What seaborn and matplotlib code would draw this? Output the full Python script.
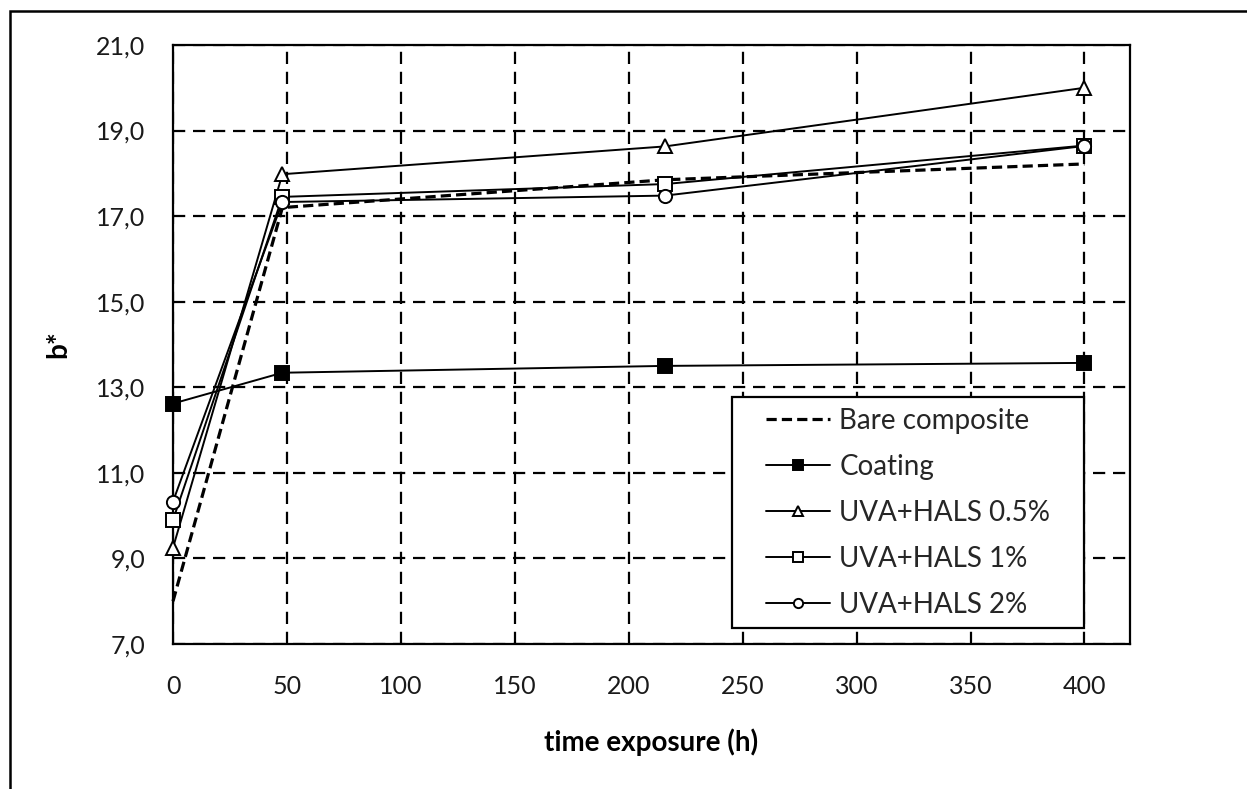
import matplotlib
matplotlib.use("Agg")
import matplotlib.pyplot as plt
from matplotlib.patches import Rectangle
from matplotlib.ticker import FuncFormatter
import seaborn as sns
import pandas as pd

# Exposure times (h) and b* colour coordinate per sample
hours = [0, 48, 216, 400]
bare_composite = [8.0, 17.2, 17.85, 18.22]
coating = [12.62, 13.34, 13.5, 13.57]
uva_hals_05 = [9.25, 17.98, 18.63, 20.0]
uva_hals_1 = [9.9, 17.45, 17.75, 18.65]
uva_hals_2 = [10.33, 17.33, 17.48, 18.64]

series_names = ["Bare composite", "Coating", "UVA+HALS 0.5%",
                "UVA+HALS 1%", "UVA+HALS 2%"]
series_values = [bare_composite, coating, uva_hals_05, uva_hals_1, uva_hals_2]

x_ticks = [0, 50, 100, 150, 200, 250, 300, 350, 400]
y_ticks = [7, 9, 11, 13, 15, 17, 19, 21]

sns.set_theme(style="white")
plt.rcParams["font.family"] = ["Lato", "DejaVu Sans"]

fig = plt.figure(figsize=(12.47, 7.89), dpi=100)
ax = fig.add_axes([173 / 1247, 1 - 644 / 789, (1130 - 173) / 1247, (644 - 45) / 789])

frames = []
for name, vals in zip(series_names, series_values):
    frames.append(pd.DataFrame({"time": hours, "b": vals, "sample": name}))
df = pd.concat(frames, ignore_index=True)

styles = {
    "Bare composite": dict(marker=None, linestyle=(0, (3.2, 1.6)), lw=2.3,
                           mfc="black"),
    "Coating": dict(marker="s", linestyle="-", lw=1.4, mfc="black"),
    "UVA+HALS 0.5%": dict(marker="^", linestyle="-", lw=1.4, mfc="white"),
    "UVA+HALS 1%": dict(marker="s", linestyle="-", lw=1.4, mfc="white"),
    "UVA+HALS 2%": dict(marker="o", linestyle="-", lw=1.4, mfc="white"),
}

for name in series_names:
    st = styles[name]
    sub = df[df["sample"] == name]
    kw = dict(color="black", linewidth=st["lw"], linestyle=st["linestyle"],
              label=name, zorder=3, clip_on=False)
    if st["marker"] is not None:
        kw.update(marker=st["marker"], markersize=9.5,
                  markerfacecolor=st["mfc"], markeredgecolor="black",
                  markeredgewidth=1.4)
    sns.lineplot(data=sub, x="time", y="b", ax=ax, estimator=None,
                 sort=False, **kw)

ax.set_xlim(0, 420)
ax.set_ylim(7, 21)
ax.set_xticks(x_ticks)
ax.set_yticks(y_ticks)
ax.yaxis.set_major_formatter(FuncFormatter(lambda v, p: f"{v:.1f}".replace(".", ",")))

ax.grid(True, color="black", linestyle=(0, (5.5, 3.5)), linewidth=1.6, zorder=1)
ax.set_axisbelow(True)

for sp in ax.spines.values():
    sp.set_visible(True)
    sp.set_color("black")
    sp.set_linewidth(1.6)

ax.tick_params(axis="both", direction="in", length=5, width=1.4, color="black",
               labelsize=18, labelcolor="#1a1a1a", pad=20)
ax.tick_params(axis="x", pad=22)
ax.tick_params(left=True, bottom=True)

ax.set_xlabel("time exposure (h)", fontsize=20, fontweight="bold", labelpad=22,
              color="black")
ax.set_ylabel("b*", fontsize=20, fontweight="bold", labelpad=18, color="black")

# Legend box, drawn as its own white rectangle with the entries centred inside
box = Rectangle((0.584, 0.0267), 0.952 - 0.584, 0.412 - 0.0267,
                transform=ax.transAxes, facecolor="white", edgecolor="black",
                linewidth=1.6, zorder=4)
ax.add_patch(box)
leg = ax.legend(loc="center", bbox_to_anchor=(0.768, 0.2195),
                borderaxespad=0, frameon=False, fontsize=20,
                handlelength=2.3, handletextpad=0.35, labelspacing=0.72,
                borderpad=0.0, markerscale=0.7)
leg.set_zorder(5)

# Outer frame around the whole chart area
fig.patches.append(Rectangle((10 / 1247, -0.1), 1.2, 1.1 - 11 / 789,
                             transform=fig.transFigure, fill=False,
                             edgecolor="black", linewidth=1.8, clip_on=False))

fig.savefig("out.png", dpi=100, facecolor="white")
